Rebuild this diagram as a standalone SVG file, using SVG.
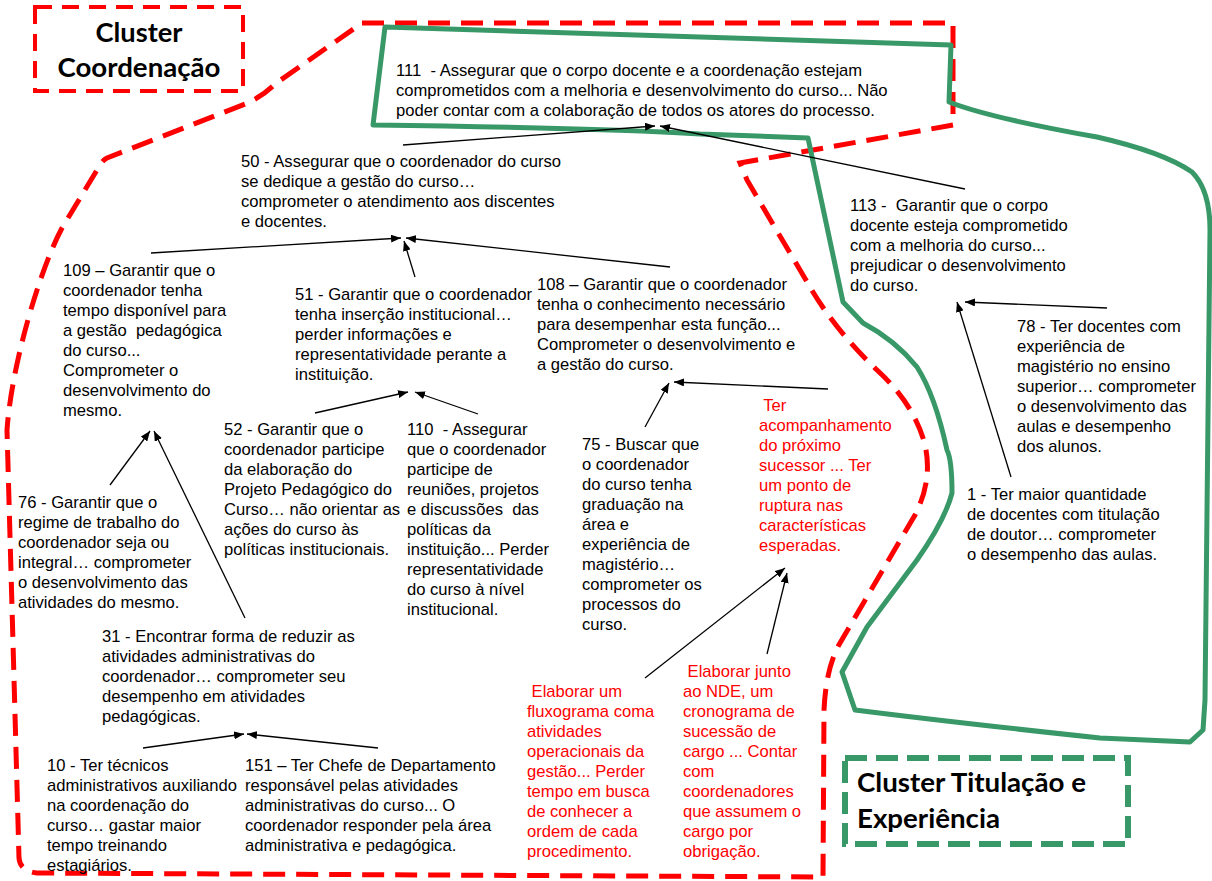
<svg xmlns="http://www.w3.org/2000/svg" width="1212" height="881" viewBox="0 0 1212 881">
  <style>
    .t { font-family: "Liberation Sans", Arial, sans-serif; font-size: 16.6px; fill: #000; white-space: pre; }
    .r { font-family: "Liberation Sans", Arial, sans-serif; font-size: 16.6px; fill: #ff0000; white-space: pre; }
    .title { font-family: Lato, "Open Sans", sans-serif; font-weight: bold; font-size: 27px; fill: #000; }
    .edge { stroke: #000; stroke-width: 1.3; fill: none; marker-end: url(#arrow); }
    .redzone { fill: none; stroke: #ff0000; stroke-width: 5; stroke-dasharray: 22 11; }
    .greenzone { fill: none; stroke: #389868; stroke-width: 5; stroke-linejoin: round; }
  </style>
  <defs>
    <marker id="arrow" markerUnits="userSpaceOnUse" markerWidth="11" markerHeight="8" refX="10" refY="4" orient="auto">
      <path d="M0,0 L10,4 L0,8 Z" fill="#000"/>
    </marker>
  </defs>

  <rect width="1212" height="881" fill="#fff"/>

  <!-- cluster outlines -->
  <g id="cluster-areas">
    <path class="redzone" d="M 362 23 L 953 23 L 953 125 L 740 163 L 747 180 L 810 287 Q 835 330 877 370 Q 915 405 925 445 Q 933 480 915 515 L 840 643 Q 826 667 824 710 L 823 877 L 37 873 Q 20 871 19 858 L 12 607 L 7 430 C 12 360 42 265 62 228 L 100 165 Q 103 160 107 158 L 245 104 Q 262 97 275 84 Z"/>
    <path class="greenzone" d="M 385 27 L 951 45 L 949 102 Q 990 118 1097 137 Q 1163 152 1192 172 Q 1210 190 1210 230 L 1205 700 L 1203 730 L 1190 742 L 1100 738 Q 950 722 855 710 L 842 672 L 867 627 L 917 560 Q 945 520 952 493 Q 952 460 947 450 Q 935 395 917 367 Q 895 340 863 323 L 843 302 L 808 138 L 700 134 Q 600 128 373 125 Z"/>
  </g>

  <!-- cluster labels -->
  <g id="label-coordenacao">
    <rect x="35" y="7" width="208" height="84" fill="none" stroke="#ff0000" stroke-width="4" stroke-dasharray="17 10"/>
    <text class="title" x="139" y="42" text-anchor="middle" textLength="87" lengthAdjust="spacingAndGlyphs">Cluster</text>
    <text class="title" x="139" y="77" text-anchor="middle" textLength="163" lengthAdjust="spacingAndGlyphs">Coordenação</text>
  </g>
  <g id="label-titulacao">
    <rect x="845" y="758" width="283" height="86" fill="none" stroke="#389868" stroke-width="6" stroke-dasharray="22 9"/>
    <text class="title" x="857" y="792" textLength="229" lengthAdjust="spacingAndGlyphs">Cluster Titulação e</text>
    <text class="title" x="857" y="828" textLength="143" lengthAdjust="spacingAndGlyphs">Experiência</text>
  </g>

  <!-- connectors -->
  <g id="connectors">
    <line class="edge" x1="403" y1="145" x2="655" y2="126"/>
    <line class="edge" x1="965" y1="189" x2="660" y2="126"/>
    <line class="edge" x1="151" y1="253" x2="401" y2="238"/>
    <line class="edge" x1="415" y1="277" x2="404" y2="241"/>
    <line class="edge" x1="670" y1="267" x2="406" y2="238"/>
    <line class="edge" x1="315" y1="413" x2="408" y2="392"/>
    <line class="edge" x1="478" y1="414" x2="415" y2="392"/>
    <line class="edge" x1="645" y1="427" x2="669" y2="383"/>
    <line class="edge" x1="828" y1="389" x2="674" y2="382"/>
    <line class="edge" x1="1107" y1="308" x2="965" y2="302"/>
    <line class="edge" x1="1011" y1="477" x2="957" y2="302"/>
    <line class="edge" x1="110" y1="485" x2="150" y2="431"/>
    <line class="edge" x1="245" y1="618" x2="154" y2="431"/>
    <line class="edge" x1="143" y1="748" x2="244" y2="734"/>
    <line class="edge" x1="378" y1="748" x2="247" y2="734"/>
    <line class="edge" x1="645" y1="678" x2="785" y2="568"/>
    <line class="edge" x1="767" y1="654" x2="787" y2="573"/>
  </g>

  <!-- nodes -->
  <g id="n111">
    <text class="t" x="396" y="76"><tspan x="396">111  - Assegurar que o corpo docente e a coordenação estejam</tspan><tspan x="396" dy="20">comprometidos com a melhoria e desenvolvimento do curso... Não</tspan><tspan x="396" dy="20">poder contar com a colaboração de todos os atores do processo.</tspan></text>
  </g>
  <g id="n50">
    <text class="t" x="241" y="167"><tspan x="241">50 - Assegurar que o coordenador do curso</tspan><tspan x="241" dy="20">se dedique a gestão do curso…</tspan><tspan x="241" dy="20">comprometer o atendimento aos discentes</tspan><tspan x="241" dy="20">e docentes.</tspan></text>
  </g>
  <g id="n113">
    <text class="t" x="850" y="211"><tspan x="850">113 -  Garantir que o corpo</tspan><tspan x="850" dy="20">docente esteja comprometido</tspan><tspan x="850" dy="20">com a melhoria do curso...</tspan><tspan x="850" dy="20">prejudicar o desenvolvimento</tspan><tspan x="850" dy="20">do curso.</tspan></text>
  </g>
  <g id="n109">
    <text class="t" x="63" y="276"><tspan x="63">109 – Garantir que o</tspan><tspan x="63" dy="20">coordenador tenha</tspan><tspan x="63" dy="20">tempo disponível para</tspan><tspan x="63" dy="20">a gestão  pedagógica</tspan><tspan x="63" dy="20">do curso...</tspan><tspan x="63" dy="20">Comprometer o</tspan><tspan x="63" dy="20">desenvolvimento do</tspan><tspan x="63" dy="20">mesmo.</tspan></text>
  </g>
  <g id="n51">
    <text class="t" x="295" y="300"><tspan x="295">51 - Garantir que o coordenador</tspan><tspan x="295" dy="20">tenha inserção institucional…</tspan><tspan x="295" dy="20">perder informações e</tspan><tspan x="295" dy="20">representatividade perante a</tspan><tspan x="295" dy="20">instituição.</tspan></text>
  </g>
  <g id="n108">
    <text class="t" x="537" y="290"><tspan x="537">108 – Garantir que o coordenador</tspan><tspan x="537" dy="20">tenha o conhecimento necessário</tspan><tspan x="537" dy="20">para desempenhar esta função...</tspan><tspan x="537" dy="20">Comprometer o desenvolvimento e</tspan><tspan x="537" dy="20">a gestão do curso.</tspan></text>
  </g>
  <g id="n78">
    <text class="t" x="1017" y="332"><tspan x="1017">78 - Ter docentes com</tspan><tspan x="1017" dy="20">experiência de</tspan><tspan x="1017" dy="20">magistério no ensino</tspan><tspan x="1017" dy="20">superior… comprometer</tspan><tspan x="1017" dy="20">o desenvolvimento das</tspan><tspan x="1017" dy="20">aulas e desempenho</tspan><tspan x="1017" dy="20">dos alunos.</tspan></text>
  </g>
  <g id="n52">
    <text class="t" x="224" y="435"><tspan x="224">52 - Garantir que o</tspan><tspan x="224" dy="20">coordenador participe</tspan><tspan x="224" dy="20">da elaboração do</tspan><tspan x="224" dy="20">Projeto Pedagógico do</tspan><tspan x="224" dy="20">Curso… não orientar as</tspan><tspan x="224" dy="20">ações do curso às</tspan><tspan x="224" dy="20">políticas institucionais.</tspan></text>
  </g>
  <g id="n110">
    <text class="t" x="407" y="435"><tspan x="407">110  - Assegurar</tspan><tspan x="407" dy="20">que o coordenador</tspan><tspan x="407" dy="20">participe de</tspan><tspan x="407" dy="20">reuniões, projetos</tspan><tspan x="407" dy="20">e discussões  das</tspan><tspan x="407" dy="20">políticas da</tspan><tspan x="407" dy="20">instituição... Perder</tspan><tspan x="407" dy="20">representatividade</tspan><tspan x="407" dy="20">do curso à nível</tspan><tspan x="407" dy="20">institucional.</tspan></text>
  </g>
  <g id="n75">
    <text class="t" x="582" y="450"><tspan x="582">75 - Buscar que</tspan><tspan x="582" dy="20">o coordenador</tspan><tspan x="582" dy="20">do curso tenha</tspan><tspan x="582" dy="20">graduação na</tspan><tspan x="582" dy="20">área e</tspan><tspan x="582" dy="20">experiência de</tspan><tspan x="582" dy="20">magistério…</tspan><tspan x="582" dy="20">comprometer os</tspan><tspan x="582" dy="20">processos do</tspan><tspan x="582" dy="20">curso.</tspan></text>
  </g>
  <g id="n-sucessor">
    <text class="r" x="759" y="411"><tspan x="759"> Ter</tspan><tspan x="759" dy="20">acompanhamento</tspan><tspan x="759" dy="20">do próximo</tspan><tspan x="759" dy="20">sucessor ... Ter</tspan><tspan x="759" dy="20">um ponto de</tspan><tspan x="759" dy="20">ruptura nas</tspan><tspan x="759" dy="20">características</tspan><tspan x="759" dy="20">esperadas.</tspan></text>
  </g>
  <g id="n76">
    <text class="t" x="18" y="508"><tspan x="18">76 - Garantir que o</tspan><tspan x="18" dy="20">regime de trabalho do</tspan><tspan x="18" dy="20">coordenador seja ou</tspan><tspan x="18" dy="20">integral… comprometer</tspan><tspan x="18" dy="20">o desenvolvimento das</tspan><tspan x="18" dy="20">atividades do mesmo.</tspan></text>
  </g>
  <g id="n1">
    <text class="t" x="967" y="500"><tspan x="967">1 - Ter maior quantidade</tspan><tspan x="967" dy="20">de docentes com titulação</tspan><tspan x="967" dy="20">de doutor… comprometer</tspan><tspan x="967" dy="20">o desempenho das aulas.</tspan></text>
  </g>
  <g id="n31">
    <text class="t" x="102" y="642"><tspan x="102">31 - Encontrar forma de reduzir as</tspan><tspan x="102" dy="20">atividades administrativas do</tspan><tspan x="102" dy="20">coordenador… comprometer seu</tspan><tspan x="102" dy="20">desempenho em atividades</tspan><tspan x="102" dy="20">pedagógicas.</tspan></text>
  </g>
  <g id="n10">
    <text class="t" x="47" y="771"><tspan x="47">10 - Ter técnicos</tspan><tspan x="47" dy="20">administrativos auxiliando</tspan><tspan x="47" dy="20">na coordenação do</tspan><tspan x="47" dy="20">curso… gastar maior</tspan><tspan x="47" dy="20">tempo treinando</tspan><tspan x="47" dy="20">estagiários.</tspan></text>
  </g>
  <g id="n151">
    <text class="t" x="245" y="771"><tspan x="245">151 – Ter Chefe de Departamento</tspan><tspan x="245" dy="20">responsável pelas atividades</tspan><tspan x="245" dy="20">administrativas do curso... O</tspan><tspan x="245" dy="20">coordenador responder pela área</tspan><tspan x="245" dy="20">administrativa e pedagógica.</tspan></text>
  </g>
  <g id="n-fluxograma">
    <text class="r" x="527" y="697"><tspan x="527"> Elaborar um</tspan><tspan x="527" dy="20">fluxograma coma</tspan><tspan x="527" dy="20">atividades</tspan><tspan x="527" dy="20">operacionais da</tspan><tspan x="527" dy="20">gestão... Perder</tspan><tspan x="527" dy="20">tempo em busca</tspan><tspan x="527" dy="20">de conhecer a</tspan><tspan x="527" dy="20">ordem de cada</tspan><tspan x="527" dy="20">procedimento.</tspan></text>
  </g>
  <g id="n-cronograma">
    <text class="r" x="683" y="677"><tspan x="683"> Elaborar junto</tspan><tspan x="683" dy="20">ao NDE, um</tspan><tspan x="683" dy="20">cronograma de</tspan><tspan x="683" dy="20">sucessão de</tspan><tspan x="683" dy="20">cargo ... Contar</tspan><tspan x="683" dy="20">com</tspan><tspan x="683" dy="20">coordenadores</tspan><tspan x="683" dy="20">que assumem o</tspan><tspan x="683" dy="20">cargo por</tspan><tspan x="683" dy="20">obrigação.</tspan></text>
  </g>
</svg>
